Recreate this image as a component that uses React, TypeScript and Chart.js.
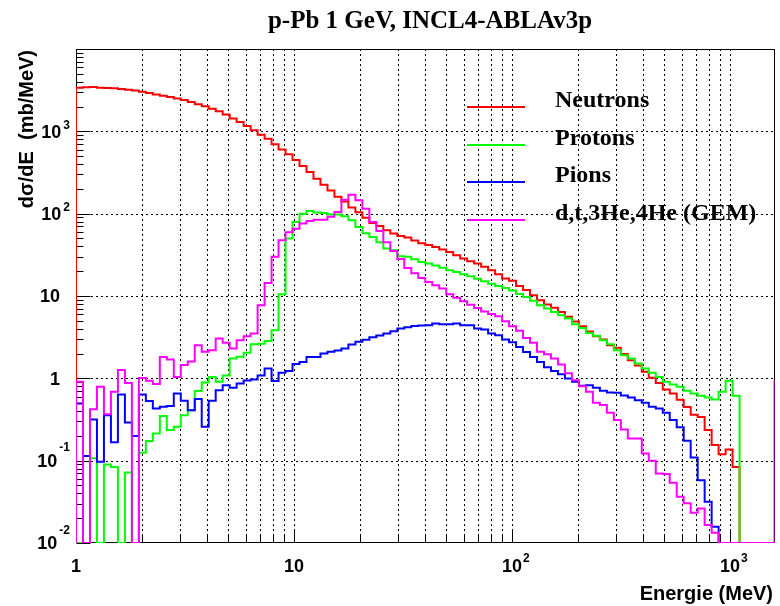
import React, { useEffect, useRef } from "react";
import { Chart, registerables } from "chart.js";

Chart.register(...registerables);

// ---- binning / axis ranges ----
const E_MIN = 1;
const E_MAX = 1600;
const N_BINS = 100;
const Y_MIN = 0.01;
const Y_MAX = 10000;

// ---- series (one value per bin, 100 log-spaced bins from 1 to 1600 MeV) ----
const neutrons = [
  3390, 3420, 3450, 3390, 3360, 3330, 3260, 3200, 3140, 3030,
  2920, 2810, 2710, 2610, 2510, 2400, 2270, 2140, 2010, 1880,
  1750, 1600, 1430, 1300, 1160, 1030, 910, 815, 695, 603,
  525, 447, 380, 321, 266, 224, 191, 160, 141, 119,
  104, 89, 77, 71, 63, 57.5, 53.7, 51.3, 47.3, 43.6,
  41.7, 39.5, 36.6, 34.3, 31.3, 28.5, 26.5, 24.8, 22.6, 20.6,
  18.4, 16.3, 15.3, 13.2, 11.8, 10.2, 8.9, 7.9, 7.2, 6.4,
  5.6, 4.9, 4.3, 3.7, 3.25, 2.96, 2.53, 2.35, 1.97, 1.66,
  1.43, 1.2, 1.02, 0.88, 0.73, 0.655, 0.55, 0.45, 0.36, 0.34,
  0.235, 0.155, 0.12, 0.137, 0.084, 0, 0, 0, 0, 0,
];

const protons = [
  0, 0, 0.107, 0, 0.09, 0.084, 0, 0.072, 0, 0.125,
  0.173, 0.214, 0.348, 0.235, 0.258, 0.357, 0.411, 0.703, 0.887, 1.04,
  0.906, 1.08, 1.74, 1.83, 2.05, 2.6, 2.63, 2.85, 3.85, 10.5,
  50, 79, 100, 108, 103, 102, 98, 98, 93, 83,
  69, 58, 52, 45, 37.7, 35.9, 30.4, 29.9, 27.9, 25.9,
  24.8, 23.4, 22.1, 20.6, 19.6, 18.4, 17.4, 16.2, 15.1, 14.1,
  13.2, 12.5, 11.7, 10.6, 9.75, 8.73, 7.73, 7.05, 6.41, 5.85,
  5.32, 4.55, 4.1, 3.56, 3.28, 2.9, 2.6, 2.2, 1.91, 1.74,
  1.51, 1.32, 1.17, 1.04, 0.908, 0.841, 0.789, 0.705, 0.655, 0.614,
  0.586, 0.553, 0.686, 0.933, 0.614, 0, 0, 0, 0, 0,
];

const pions = [
  0.495, 0.114, 0.317, 0.097, 0.357, 0.167, 0.637, 0.291, 0.199, 0.637,
  0.529, 0.431, 0.452, 0.46, 0.655, 0.533, 0.411, 0.56, 0.258, 0.533,
  0.719, 0.826, 0.77, 0.866, 0.94, 0.97, 1.08, 1.32, 0.93, 1.17,
  1.23, 1.49, 1.58, 1.82, 1.81, 2.0, 2.1, 2.18, 2.3, 2.57,
  2.79, 2.95, 3.16, 3.31, 3.5, 3.72, 4.03, 4.17, 4.32, 4.37,
  4.42, 4.63, 4.55, 4.55, 4.63, 4.42, 4.42, 4.03, 3.92, 3.5,
  3.34, 2.96, 2.75, 2.4, 2.09, 1.82, 1.58, 1.36, 1.23, 1.12,
  0.995, 0.908, 0.811, 0.826, 0.767, 0.705, 0.673, 0.667, 0.619, 0.586,
  0.543, 0.505, 0.451, 0.431, 0.382, 0.311, 0.254, 0.175, 0.109, 0.058,
  0.0317, 0.0158, 0, 0, 0, 0, 0, 0, 0, 0,
];

const gem = [
  0.908, 0, 0.42, 0.79, 0.365, 0.686, 1.26, 0.88, 0, 1.01,
  0.933, 0.851, 1.82, 1.69, 1.04, 1.45, 1.6, 2.53, 2.1, 2.2,
  3.04, 2.7, 2.3, 2.9, 3.25, 3.5, 7.7, 14.4, 29.9, 47.5,
  59.4, 65.8, 75.9, 81.5, 84.5, 84.5, 92, 105, 148, 170,
  146, 115, 79.2, 61.4, 45, 35.1, 28.2, 21.9, 18.9, 16.5,
  14.8, 13.5, 12.3, 10.5, 9.55, 8.61, 7.85, 7.16, 6.46, 6.03,
  5.69, 4.94, 4.3, 3.78, 3.1, 2.7, 2.1, 1.96, 1.74, 1.47,
  1.15, 0.95, 0.804, 0.686, 0.505, 0.473, 0.382, 0.311, 0.239, 0.186,
  0.186, 0.122, 0.0998, 0.07, 0.0687, 0.054, 0.0365, 0.0303, 0.0233, 0.0263,
  0.0165, 0.0133, 0, 0, 0, 0, 0, 0, 0, 0,
];
// value the GEM histogram line climbs back to at the right frame edge
const gemEdgeValue = 0.95;

const seriesNames = ["Neutrons", "Protons", "Pions", "d,t,3He,4He (GEM)"];
const seriesColors = ["#ff0000", "#00ff00", "#0000ff", "#ff00ff"];

const titleText = "p-Pb 1 GeV, INCL4-ABLAv3p";
const xTitleText = "Energie (MeV)";
const yTitleText = "d\u03c3/dE  (mb/MeV)";

const xTickValues = [1, 10, 100, 1000];
const xTickBases = ["1", "10", "10", "10"];
const xTickExps = ["", "", "2", "3"];
const yTickValues = [0.01, 0.1, 1, 10, 100, 1000];
const yTickBases = ["10", "10", "1", "10", "10", "10"];
const yTickExps = ["-2", "-1", "", "", "2", "3"];
const xGridValues = [
  2, 3, 4, 5, 6, 7, 8, 9, 10, 20, 30, 40, 50, 60, 70, 80, 90,
  100, 200, 300, 400, 500, 600, 700, 800, 900, 1000,
];
const yGridValues = [0.1, 1, 10, 100, 1000];
const yDecades = [0.01, 0.1, 1, 10, 100, 1000];
const minorMultipliers = [2, 3, 4, 5, 6, 7, 8, 9];

const binEdges = Array.from(
  { length: N_BINS + 1 },
  (_, i) => E_MIN * Math.pow(E_MAX / E_MIN, i / N_BINS)
);

function histPoints(values: number[], tail?: number) {
  const pts: { x: number; y: number }[] = [{ x: binEdges[0], y: Y_MIN }];
  values.forEach((v, i) => {
    const y = v > 0 ? v : Y_MIN;
    pts.push({ x: binEdges[i], y }, { x: binEdges[i + 1], y });
  });
  pts.push({ x: binEdges[N_BINS], y: tail !== undefined ? tail : Y_MIN });
  return pts;
}

const SANS = '"Liberation Sans", Arial, sans-serif';
const SERIF = '"Liberation Serif", "Times New Roman", serif';

const rootStyle = {
  id: "rootStyle",
  beforeDatasetsDraw(chart: any) {
    const { ctx, chartArea: a, scales } = chart;
    const x = scales.x;
    const y = scales.y;
    ctx.save();
    ctx.strokeStyle = "#000";
    ctx.lineWidth = 1;
    // dotted grid
    ctx.setLineDash([2, 3]);
    xGridValues.forEach((v) => {
      const px = Math.round(x.getPixelForValue(v)) + 0.5;
      ctx.beginPath();
      ctx.moveTo(px, a.top);
      ctx.lineTo(px, a.bottom);
      ctx.stroke();
    });
    yGridValues.forEach((v) => {
      const py = Math.round(y.getPixelForValue(v)) + 0.5;
      ctx.beginPath();
      ctx.moveTo(a.left, py);
      ctx.lineTo(a.right, py);
      ctx.stroke();
    });
    ctx.setLineDash([]);
    // frame
    ctx.strokeRect(
      Math.round(a.left) + 0.5,
      Math.round(a.top) + 0.5,
      Math.round(a.right - a.left) - 1,
      Math.round(a.bottom - a.top) - 1
    );
    // y ticks
    const left = Math.round(a.left) + 0.5;
    yDecades.forEach((d) => {
      const py = Math.round(y.getPixelForValue(d)) + 0.5;
      ctx.beginPath();
      ctx.moveTo(left, py);
      ctx.lineTo(left + 14, py);
      ctx.stroke();
      minorMultipliers.forEach((m) => {
        const v = d * m;
        if (v >= Y_MAX) return;
        const pm = Math.round(y.getPixelForValue(v)) + 0.5;
        ctx.beginPath();
        ctx.moveTo(left, pm);
        ctx.lineTo(left + 7, pm);
        ctx.stroke();
      });
    });
    // x ticks
    const bottom = Math.round(a.bottom) - 0.5;
    xTickValues.forEach((d) => {
      const px = Math.round(x.getPixelForValue(d)) + 0.5;
      ctx.beginPath();
      ctx.moveTo(px, bottom);
      ctx.lineTo(px, bottom - 12);
      ctx.stroke();
      minorMultipliers.forEach((m) => {
        const v = d * m;
        if (v >= E_MAX) return;
        const pm = Math.round(x.getPixelForValue(v)) + 0.5;
        ctx.beginPath();
        ctx.moveTo(pm, bottom);
        ctx.lineTo(pm, bottom - 7);
        ctx.stroke();
      });
    });
    ctx.restore();
  },
  afterDraw(chart: any) {
    const { ctx, scales } = chart;
    const x = scales.x;
    const y = scales.y;
    ctx.save();
    ctx.fillStyle = "#000";

    // title
    ctx.font = `bold 25px ${SERIF}`;
    ctx.textAlign = "center";
    ctx.textBaseline = "alphabetic";
    ctx.fillText(titleText, 430, 28);

    // legend
    const legendY = [107, 145, 182, 220];
    seriesNames.forEach((name, i) => {
      ctx.strokeStyle = seriesColors[i];
      ctx.lineWidth = 2;
      ctx.beginPath();
      ctx.moveTo(467, legendY[i]);
      ctx.lineTo(525, legendY[i]);
      ctx.stroke();
      ctx.font = `bold 24px ${SERIF}`;
      ctx.textAlign = "left";
      ctx.textBaseline = "alphabetic";
      ctx.fillStyle = "#000";
      ctx.fillText(name, 555, legendY[i]);
    });

    const baseFont = `bold 18px ${SANS}`;
    const expFont = `bold 12px ${SANS}`;

    // y tick labels
    ctx.textBaseline = "middle";
    yTickValues.forEach((v, i) => {
      const py = y.getPixelForValue(v);
      const base = yTickBases[i];
      const exp = yTickExps[i];
      if (!exp) {
        ctx.font = baseFont;
        ctx.textAlign = "right";
        ctx.fillText(base, 60, py + 1.5);
      } else {
        ctx.font = expFont;
        const ew = ctx.measureText(exp).width;
        ctx.textAlign = "left";
        ctx.fillText(exp, 70 - ew, py + 1.5 + (exp.startsWith("-") ? -14 : -7.5));
        ctx.font = baseFont;
        ctx.textAlign = "right";
        ctx.fillText(base, 70 - ew - 2, py + 1.5);
      }
    });

    // x tick labels
    xTickValues.forEach((v, i) => {
      const px = x.getPixelForValue(v);
      const base = xTickBases[i];
      const exp = xTickExps[i];
      ctx.font = baseFont;
      ctx.textAlign = "center";
      const bw = ctx.measureText(base).width;
      ctx.fillText(base, px, 567);
      if (exp) {
        ctx.font = expFont;
        ctx.textAlign = "left";
        ctx.fillText(exp, px + bw / 2 + 1, 559);
      }
    });

    // axis titles
    ctx.font = `bold 20px ${SANS}`;
    ctx.textAlign = "right";
    ctx.textBaseline = "middle";
    ctx.fillText(xTitleText, 773, 594);

    ctx.save();
    ctx.translate(27, 50);
    ctx.rotate(-Math.PI / 2);
    ctx.textAlign = "right";
    ctx.textBaseline = "middle";
    ctx.fillText(yTitleText, 0, 0);
    ctx.restore();

    ctx.restore();
  },
};

export default function App() {
  const canvasRef = useRef<HTMLCanvasElement | null>(null);

  useEffect(() => {
    document.body.style.margin = "0";
    const canvas = canvasRef.current;
    if (!canvas) return;
    const allSeries = [neutrons, protons, pions, gem];
    const datasets = allSeries.map((vals, i) => ({
      label: seriesNames[i],
      data: histPoints(vals, i === 3 ? gemEdgeValue : undefined),
      borderColor: seriesColors[i],
      backgroundColor: seriesColors[i],
      borderWidth: 2,
      pointRadius: 0,
      pointHoverRadius: 0,
      fill: false,
      tension: 0,
      borderJoinStyle: "miter" as const,
      borderCapStyle: "butt" as const,
      order: 3 - i,
    }));
    const chart = new Chart(canvas, {
      type: "line",
      data: { datasets },
      options: {
        animation: false,
        responsive: false,
        events: [],
        layout: { padding: { left: 76, right: 5.5, top: 49, bottom: 63 } },
        plugins: {
          legend: { display: false },
          title: { display: false },
          tooltip: { enabled: false },
        },
        scales: {
          x: { type: "logarithmic", min: E_MIN, max: E_MAX, display: false },
          y: { type: "logarithmic", min: Y_MIN, max: Y_MAX, display: false },
        },
      },
      plugins: [rootStyle],
    });
    return () => chart.destroy();
  }, []);

  return (
    <canvas
      ref={canvasRef}
      width={780}
      height={606}
      style={{ display: "block", width: 780, height: 606 }}
    />
  );
}
